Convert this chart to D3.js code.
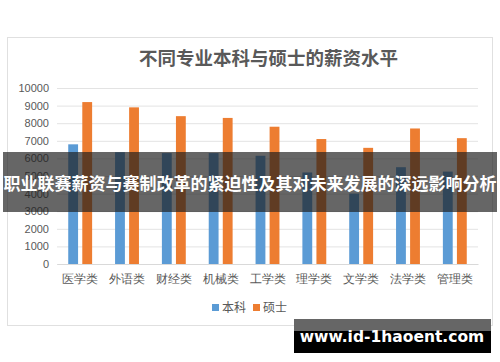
<!DOCTYPE html>
<html>
<head>
<meta charset="utf-8">
<script src="https://cdn.jsdelivr.net/npm/d3@7"></script>
<style>
  body { margin: 0; background: #fff; }
  svg { display: block; font-family: "Noto Sans CJK SC", "Noto Sans", sans-serif; }
</style>
</head>
<body>
<div id="chart"></div>
<script>
// data
let categories = ["医学类", "外语类", "财经类", "机械类", "工学类", "理学类", "文学类", "法学类", "管理类"];
let seriesNames = ["本科", "硕士"];
let bachelor = [6800, 6350, 6300, 6300, 6150, 5200, 4000, 5500, 5250];
let master = [9200, 8900, 8400, 8300, 7800, 7100, 6600, 7700, 7150];
let yTicks = [0, 1000, 2000, 3000, 4000, 5000, 6000, 7000, 8000, 9000, 10000];
let colors = ["#5b9bd5", "#ed7d31"];

let chartTitle = "不同专业本科与硕士的薪资水平";
let bannerText = "职业联赛薪资与赛制改革的紧迫性及其对未来发展的深远影响分析";
let siteText = "www.id-1haoent.com";

let width = 500;
let height = 362;
let margin = { top: 88, right: 22, bottom: 98, left: 57 };
let plotW = width - margin.left - margin.right;
let plotH = height - margin.top - margin.bottom;

let svg = d3
  .select("#chart")
  .append("svg")
  .attr("width", width)
  .attr("height", height);

// chart panel
svg
  .append("rect")
  .attr("x", 7.5)
  .attr("y", 37.5)
  .attr("width", 485)
  .attr("height", 288)
  .attr("fill", "#fff")
  .attr("stroke", "#e0e0e0");

svg
  .append("text")
  .attr("x", margin.left + plotW / 2 + 1)
  .attr("y", 65)
  .attr("text-anchor", "middle")
  .attr("font-size", 18.5)
  .attr("font-weight", 700)
  .attr("fill", "#595959")
  .text(chartTitle);

let g = svg
  .append("g")
  .attr("transform", "translate(" + margin.left + "," + margin.top + ")");

let x0 = d3
  .scaleBand()
  .domain(categories)
  .range([0, plotW])
  .paddingInner(0.49)
  .paddingOuter(0.24);

let x1 = d3
  .scaleBand()
  .domain(seriesNames)
  .range([0, x0.bandwidth()])
  .paddingInner(0.3);

let y = d3.scaleLinear().domain([0, 10000]).range([plotH, 0]);

// gridlines + y labels
let yAxis = g
  .append("g")
  .call(
    d3
      .axisLeft(y)
      .tickValues(yTicks)
      .tickFormat(d3.format("d"))
      .tickSize(-plotW)
      .tickPadding(8)
  );
yAxis.select(".domain").remove();
yAxis.selectAll(".tick line").attr("stroke", "#e3e3e3");
yAxis
  .selectAll(".tick text")
  .attr("fill", "#595959")
  .attr("font-size", 11)
  .attr("font-family", "Liberation Sans, Arial, sans-serif");

let rows = categories.map(function(c, i) {
  return { name: c, values: [bachelor[i], master[i]] };
});

let groups = g
  .selectAll(".grp")
  .data(rows)
  .enter()
  .append("g")
  .attr("class", "grp")
  .attr("transform", function(d) {
    return "translate(" + x0(d.name) + ",0)";
  });

groups
  .selectAll("rect")
  .data(function(d) {
    return d.values.map(function(v, j) {
      return { key: seriesNames[j], value: v, color: colors[j] };
    });
  })
  .enter()
  .append("rect")
  .attr("x", function(d) {
    return x1(d.key);
  })
  .attr("width", x1.bandwidth())
  .attr("y", function(d) {
    return y(d.value);
  })
  .attr("height", function(d) {
    return plotH - y(d.value);
  })
  .attr("fill", function(d) {
    return d.color;
  });

// x axis line + labels
let xAxis = g
  .append("g")
  .attr("transform", "translate(0," + plotH + ")")
  .call(d3.axisBottom(x0).tickSize(0).tickPadding(10));
xAxis.select(".domain").attr("stroke", "#d9d9d9");
xAxis
  .selectAll(".tick text")
  .attr("fill", "#595959")
  .attr("font-size", 12);

// legend
let legend = svg
  .append("g")
  .selectAll("g")
  .data(seriesNames)
  .enter()
  .append("g")
  .attr("transform", function(d, i) {
    return "translate(" + (212 + i * 41) + ",304)";
  });
legend
  .append("rect")
  .attr("width", 7)
  .attr("height", 7)
  .attr("fill", function(d, i) {
    return colors[i];
  });
legend
  .append("text")
  .attr("x", 10)
  .attr("y", 8)
  .attr("font-size", 12)
  .attr("fill", "#595959")
  .text(function(d) {
    return d;
  });

// overlay banner
svg
  .append("rect")
  .attr("x", 3)
  .attr("y", 152)
  .attr("width", 494)
  .attr("height", 60)
  .attr("fill", "rgba(30,30,30,0.68)");
svg
  .append("text")
  .attr("x", 250)
  .attr("y", 190)
  .attr("text-anchor", "middle")
  .attr("font-size", 17)
  .attr("font-weight", 700)
  .attr("fill", "#fff")
  .text(bannerText);

// site box
svg
  .append("rect")
  .attr("x", 294)
  .attr("y", 319)
  .attr("width", 197)
  .attr("height", 12)
  .attr("fill", "#666");
svg
  .append("rect")
  .attr("x", 294)
  .attr("y", 331)
  .attr("width", 197)
  .attr("height", 22)
  .attr("fill", "#000");
svg
  .append("text")
  .attr("x", 392)
  .attr("y", 342)
  .attr("text-anchor", "middle")
  .attr("font-size", 15.5)
  .attr("font-weight", 700)
  .attr("font-family", "DejaVu Sans, sans-serif")
  .attr("fill", "#fff")
  .text(siteText);
</script>
</body>
</html>
